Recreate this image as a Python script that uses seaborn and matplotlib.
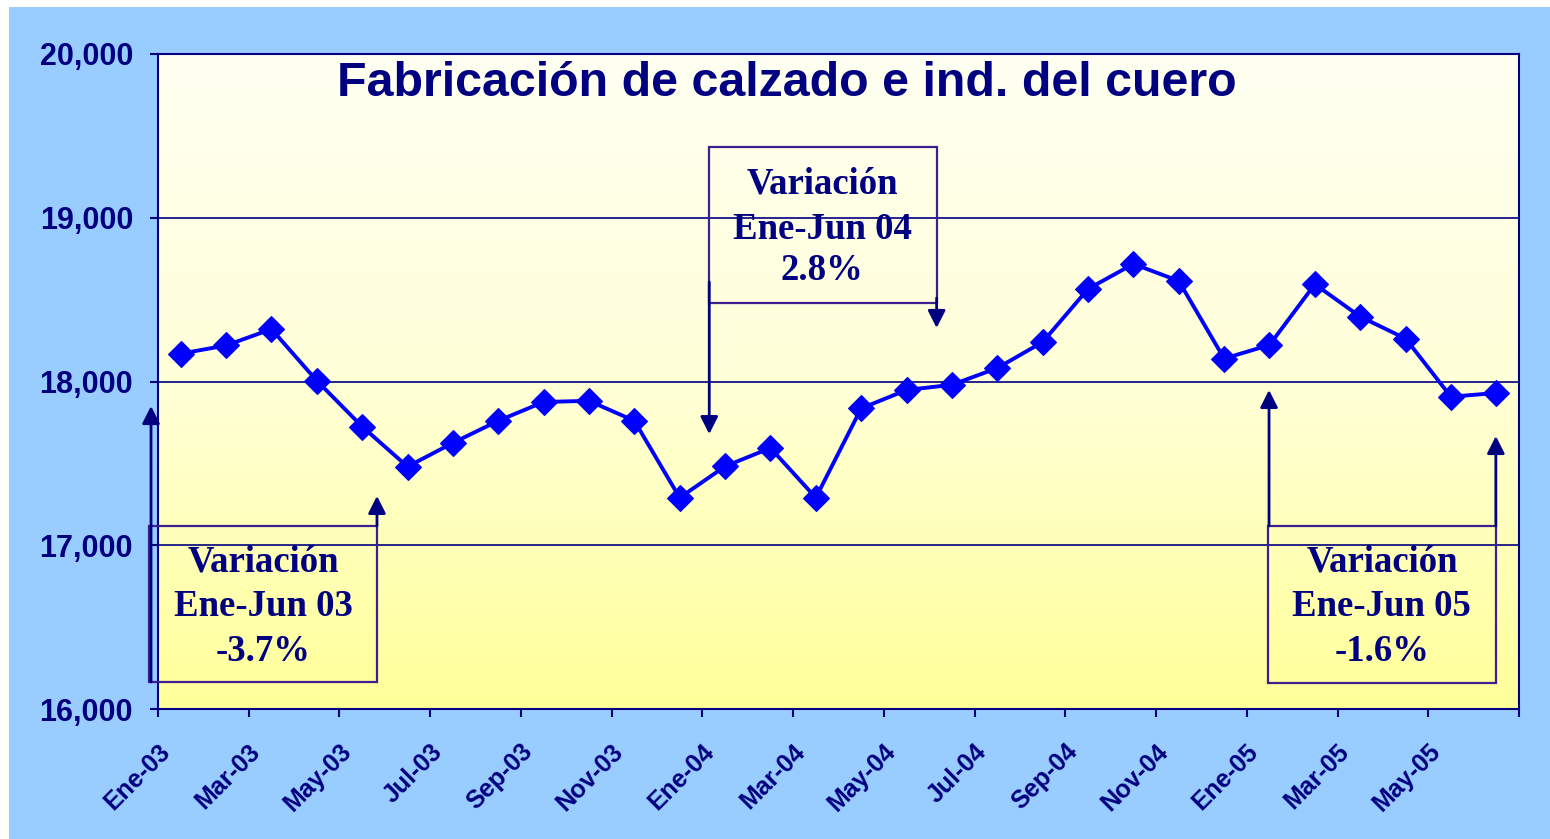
import numpy as np
import pandas as pd
import matplotlib
matplotlib.use('Agg')
import matplotlib.pyplot as plt
import matplotlib.transforms as mtransforms
from matplotlib.colors import LinearSegmentedColormap
from matplotlib.patches import Rectangle
import seaborn as sns

# datos mensuales (Ene-03 .. Jun-05)
meses = ["Ene-03", "Feb-03", "Mar-03", "Abr-03", "May-03", "Jun-03",
         "Jul-03", "Ago-03", "Sep-03", "Oct-03", "Nov-03", "Dic-03",
         "Ene-04", "Feb-04", "Mar-04", "Abr-04", "May-04", "Jun-04",
         "Jul-04", "Ago-04", "Sep-04", "Oct-04", "Nov-04", "Dic-04",
         "Ene-05", "Feb-05", "Mar-05", "Abr-05", "May-05", "Jun-05"]
valores = [18170, 18220, 18320, 18005, 17725, 17480,
           17625, 17760, 17875, 17882, 17760, 17290,
           17482, 17594, 17290, 17836, 17948, 17980,
           18082, 18241, 18565, 18718, 18614, 18140,
           18223, 18594, 18396, 18262, 17907, 17930]
etiquetas_x = ["Ene-03", "Mar-03", "May-03", "Jul-03", "Sep-03", "Nov-03",
               "Ene-04", "Mar-04", "May-04", "Jul-04", "Sep-04", "Nov-04",
               "Ene-05", "Mar-05", "May-05", ""]
ticks_y = [16000, 17000, 18000, 19000, 20000]
titulo = "Fabricación de calzado e ind. del cuero"
cuadros = [["Variación", "Ene-Jun 03", "-3.7%"],
           ["Variación", "Ene-Jun 04", "2.8%"],
           ["Variación", "Ene-Jun 05", "-1.6%"]]

NAVY = "#000080"
AZUL = "#0000FF"
FONDO = "#99CCFF"
MORADO = "#3f1f8f"

df = pd.DataFrame({"mes": meses, "valor": valores})
df["x"] = np.arange(len(df)) + 0.5

fig = plt.figure(figsize=(15.5, 8.39), dpi=100)
fig.patch.set_facecolor("white")
fig.patches.append(Rectangle((9 / 1550, 0), 1, 1 - 7 / 839, transform=fig.transFigure,
                             facecolor=FONDO, edgecolor="none", zorder=-10))
ax = fig.add_axes([158 / 1550, 1 - 709 / 839, (1519 - 158) / 1550, (709 - 54) / 839])

# degradado del area de trazado
cmap = LinearSegmentedColormap.from_list("grad", ["#FFFF99", "#FFFFD8", "#FFFFF2"])
grad = np.linspace(0, 1, 256).reshape(-1, 1)
ax.imshow(grad, cmap=cmap, origin="lower", extent=[0, 1, 0, 1],
          transform=ax.transAxes, aspect="auto", zorder=0)

for v in ticks_y[1:]:
    ax.axhline(v, color=NAVY, lw=1.2, zorder=1)

sns.lineplot(data=df, x="x", y="valor", ax=ax, color=AZUL, lw=2.8,
             marker="D", markersize=13, markeredgecolor=AZUL, markeredgewidth=0.8,
             zorder=5)

ax.set_xlim(0, len(meses))
ax.set_ylim(ticks_y[0], ticks_y[-1])
ax.set_xlabel("")
ax.set_ylabel("")
ax.set_yticks(ticks_y)
ax.set_yticklabels([f"{v:,}" for v in ticks_y])
ax.set_xticks(np.arange(0, len(meses) + 1, 2))
ax.set_xticklabels(etiquetas_x)
for s in ax.spines.values():
    s.set_color(NAVY)
    s.set_linewidth(1.5)
ax.tick_params(axis="both", direction="out", length=6, width=1.5, color=NAVY)
ax.tick_params(axis="y", labelsize=22, pad=12, labelcolor=NAVY)
ax.tick_params(axis="x", labelsize=18, pad=22, labelcolor=NAVY)
for lab in ax.get_yticklabels():
    lab.set_fontweight("bold")
    lab.set_family("Liberation Sans")
desplaza = mtransforms.ScaledTranslation(0.08, 0, fig.dpi_scale_trans)
for lab in ax.get_xticklabels():
    lab.set_fontweight("bold")
    lab.set_family("Liberation Sans")
    lab.set_rotation(45)
    lab.set_ha("right")
    lab.set_va("center")
    lab.set_rotation_mode("anchor")
    lab.set_transform(lab.get_transform() + desplaza)

ax.text(0.4618, 0.955, titulo, transform=ax.transAxes, ha="center", va="center",
        fontsize=34.8, fontweight="bold", color=NAVY, family="Liberation Sans", zorder=6)

# cuadros de variacion: (izq, der, arriba, abajo), centro x, lineas y
geo = [
    ((-0.198, 4.827, 17118, 16165), 2.314, (16898, 16629, 16354)),
    ((12.151, 17.163, 19430, 18477), 14.635, (19206, 18931, 18675)),
    ((24.472, 29.49, 17118, 16161), 26.978, (16898, 16629, 16354)),
]
for (izq, der, arr, aba), cx, ys in geo:
    ax.add_patch(Rectangle((izq, aba), der - izq, arr - aba, facecolor="none",
                           edgecolor=MORADO, lw=1.6, zorder=3, clip_on=False))
for lineas, (_, cx, ys) in zip(cuadros, geo):
    for t, y in zip(lineas, ys):
        ax.text(cx, y, t, ha="center", va="center", fontsize=26.5, fontweight="bold",
                color=NAVY, family="Liberation Serif", zorder=6)

flechas = [
    ((-0.154, 16165), (-0.154, 17850)),
    ((4.827, 17118), (4.827, 17301)),
    ((12.151, 18608), (12.151, 17679)),
    ((17.163, 18510), (17.163, 18327)),
    ((24.49, 17118), (24.49, 17948)),
    ((29.49, 17118), (29.49, 17667)),
]
for ini, fin in flechas:
    ax.annotate("", xy=fin, xytext=ini, zorder=4, annotation_clip=False,
                arrowprops=dict(arrowstyle="-|>,head_length=0.75,head_width=0.38",
                                mutation_scale=14, color=NAVY, lw=2.0,
                                shrinkA=0, shrinkB=0))

fig.savefig("out.png", dpi=100, facecolor=fig.get_facecolor())
plt.close(fig)
